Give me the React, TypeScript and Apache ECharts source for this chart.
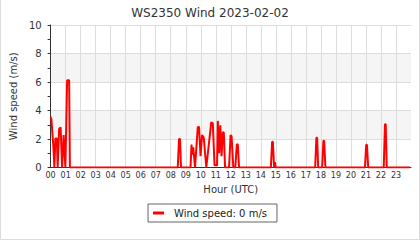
import { useEffect, useRef } from "react";
import * as echarts from "echarts";

const chartTitle = "WS2350 Wind 2023-02-02";
const seriesName = "Wind speed: 0 m/s";
const yAxisName = "Wind speed (m/s)";
const xAxisName = "Hour (UTC)";
const hourLabels = [
  "00", "01", "02", "03", "04", "05", "06", "07", "08", "09", "10", "11",
  "12", "13", "14", "15", "16", "17", "18", "19", "20", "21", "22", "23",
];
const yTicks = [0, 2, 4, 6, 8, 10];

// minutes since 00:00 UTC
const minutes = [
  0, 3, 11, 15, 19, 25, 28, 34, 40, 46, 52, 59, 66, 74, 77,
  508, 513, 517, 521,
  559, 563, 566, 570, 577, 588, 593, 599, 605, 612, 622,
  642, 648, 655, 665, 668, 673, 678, 683, 688, 692, 697,
  713, 719, 723, 730, 738, 744, 748, 753,
  880, 885, 888, 893, 896, 899,
  1057, 1062, 1065, 1069, 1085, 1090, 1093, 1098,
  1256, 1261, 1264, 1269, 1331, 1336, 1339, 1343, 1436,
];
// wind speed (m/s)
const speeds = [
  3.55, 3.4, 1.45, 0, 2.04, 2.04, 0, 2.7, 2.82, 0, 2.27, 0, 6.13, 6.13, 0,
  0, 2.0, 2.0, 0,
  0, 1.61, 0.9, 1.41, 0, 2.83, 2.85, 0.8, 2.27, 2.08, 0,
  3.18, 3.1, 0.15, 0.15, 3.27, 1.0, 2.97, 0.8, 2.48, 2.45, 0,
  0, 2.27, 2.2, 0, 0, 1.64, 1.6, 0,
  0, 1.8, 1.8, 0, 0.37, 0,
  0, 2.08, 2.08, 0, 0, 1.87, 1.87, 0,
  0, 1.59, 1.59, 0, 0, 3.04, 3.04, 0, 0,
];

const FONT = "DejaVu Sans";

export default function App() {
  const ref = useRef<HTMLDivElement>(null);
  useEffect(() => {
    if (!ref.current) return;
    const chart = echarts.init(ref.current, undefined, { renderer: "svg" });
    const data = minutes.map((m, i) => [m, speeds[i]]);
    const gridLineColors = hourLabels.map(() => "#dddddd").concat(["rgba(0,0,0,0)"]);
    chart.setOption({
      animation: false,
      backgroundColor: "#ffffff",
      textStyle: { fontFamily: FONT },
      title: {
        text: chartTitle,
        left: "center",
        top: 2,
        textStyle: { fontFamily: FONT, fontSize: 12, fontWeight: "normal", color: "#333333" },
      },
      legend: {
        data: [{ name: seriesName, icon: "rect" }],
        left: "center",
        top: 204,
        itemWidth: 11,
        itemHeight: 3,
        borderColor: "#666666",
        borderWidth: 1,
        borderRadius: 0,
        padding: [4, 10, 4, 5],
        textStyle: { fontFamily: FONT, fontSize: 10, color: "#222222", padding: [0, 0, 0, 5] },
      },
      grid: { left: 50, right: 9, top: 25, height: 142.5, containLabel: false },
      xAxis: {
        type: "value",
        min: 0,
        max: 1440,
        interval: 60,
        name: xAxisName,
        nameLocation: "middle",
        nameGap: 15,
        nameTextStyle: { fontFamily: FONT, fontSize: 10, color: "#333333" },
        axisLine: { show: true, lineStyle: { color: "#333333", width: 1 } },
        axisTick: { show: false },
        axisLabel: {
          fontFamily: FONT,
          fontSize: 8,
          color: "#333333",
          margin: 4,
          formatter: (v: number) => hourLabels[Math.round(v / 60)] ?? "",
        },
        splitLine: { show: true, lineStyle: { color: gridLineColors, width: 1 } },
      },
      yAxis: {
        type: "value",
        min: yTicks[0],
        max: yTicks[yTicks.length - 1],
        interval: 2,
        name: yAxisName,
        nameLocation: "middle",
        nameGap: 32,
        nameTextStyle: { fontFamily: FONT, fontSize: 10, color: "#333333" },
        axisLine: { show: true, lineStyle: { color: "#333333", width: 1 } },
        axisTick: { show: true, length: 3, lineStyle: { color: "#333333" } },
        minorTick: { show: true, splitNumber: 2, length: 3, lineStyle: { color: "#333333" } },
        axisLabel: { fontFamily: FONT, fontSize: 10, color: "#333333", margin: 9 },
        splitLine: { show: true, lineStyle: { color: "#dddddd", width: 1 } },
        splitArea: { show: true, areaStyle: { color: ["#ffffff", "#f5f5f5"] } },
      },
      graphic: [
        {
          type: "polyline",
          shape: { points: [[0.5, 0], [0.5, 239.5], [419.5, 239.5], [419.5, 0]] },
          style: { stroke: "#dddddd", fill: "none", lineWidth: 1 },
          silent: true,
        },
      ],
      series: [
        {
          name: seriesName,
          type: "line",
          data,
          showSymbol: false,
          symbol: "none",
          lineStyle: { color: "#ff0000", width: 2 },
          itemStyle: { color: "#ff0000" },
          z: 3,
        },
      ],
    });
    return () => chart.dispose();
  }, []);
  return (
    <div
      ref={ref}
      style={{ position: "fixed", left: 0, top: 0, width: 420, height: 240 }}
    />
  );
}
